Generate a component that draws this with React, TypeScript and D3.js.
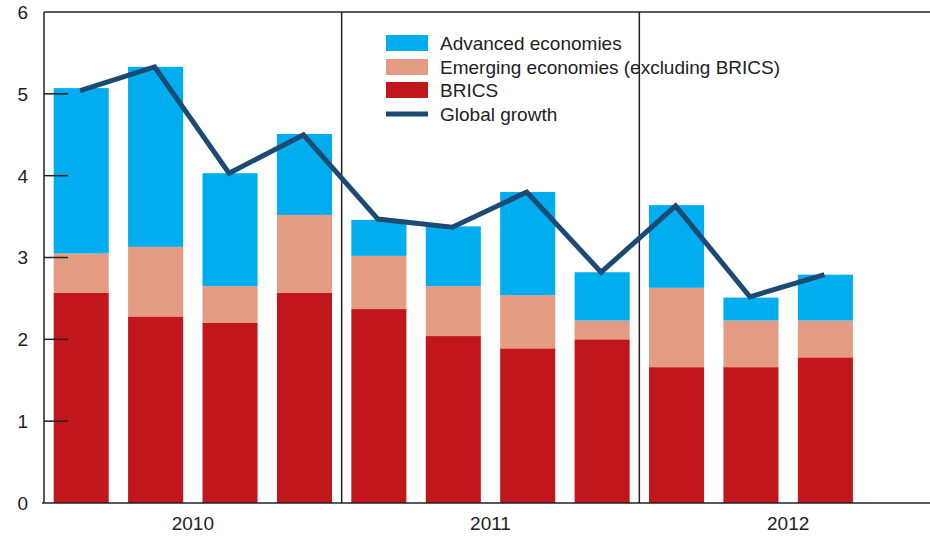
import React from "react";
import * as d3 from "d3";

const quarters = ["2010Q1","2010Q2","2010Q3","2010Q4","2011Q1","2011Q2","2011Q3","2011Q4","2012Q1","2012Q2","2012Q3","2012Q4"];
const years = ["2010", "2011", "2012"];
// stacked components (percentage points)
const brics = [2.57, 2.28, 2.20, 2.57, 2.37, 2.04, 1.89, 2.00, 1.66, 1.66, 1.78];
const emerging = [0.48, 0.85, 0.45, 0.95, 0.65, 0.61, 0.65, 0.23, 0.97, 0.57, 0.45];
const advanced = [2.02, 2.20, 1.38, 0.99, 0.44, 0.73, 1.26, 0.59, 1.01, 0.28, 0.56];
const globalGrowth = [5.04, 5.33, 4.03, 4.50, 3.47, 3.37, 3.80, 2.82, 3.63, 2.52, 2.79];
const yTicks = [0, 1, 2, 3, 4, 5, 6];

const seriesNames = ["BRICS", "Emerging economies (excluding BRICS)", "Advanced economies"];
const colors: Record<string, string> = {
  "BRICS": "#C1161C",
  "Emerging economies (excluding BRICS)": "#E49B83",
  "Advanced economies": "#00ADEE",
};
const lineColor = "#1C4A72";
const legendItems = ["Advanced economies", "Emerging economies (excluding BRICS)", "BRICS", "Global growth"];

export default function App() {
  const W = 930, H = 537;
  const left = 44, right = 937, top = 12, bottom = 503;
  const font = "'Liberation Sans', Arial, sans-serif";

  const x = d3.scaleBand<string>().domain(quarters).range([left, right]).paddingInner(0.26).paddingOuter(0.13);
  const y = d3.scaleLinear().domain([0, 6]).range([bottom, top]);

  const rows = brics.map((b, i) => ({
    q: quarters[i],
    "BRICS": b,
    "Emerging economies (excluding BRICS)": emerging[i],
    "Advanced economies": advanced[i],
  }));
  const stack = d3.stack<any>().keys(seriesNames)(rows);

  const line = d3.line<number>()
    .x((_, i) => (x(quarters[i]) as number) + x.bandwidth() / 2 - 1)
    .y((d) => y(d));

  const step = x.step();
  const dividers = [4, 8].map((k) => left + k * step);
  const yearCenters = years.map((_, k) => left + (k * 4 + 2) * step);

  const legX = 386, legY = [43, 67, 90, 114];

  return (
    <svg width={W} height={H} style={{ position: "absolute", left: 0, top: 0, background: "#fff" }} fontFamily={font}>
      {stack.map((s) => (
        <g key={s.key} fill={colors[s.key]}>
          {s.map((d, i) => (
            <rect key={i} x={x(quarters[i])} y={y(d[1])} width={x.bandwidth()} height={y(d[0]) - y(d[1])} />
          ))}
        </g>
      ))}
      {/* frame */}
      <line x1={left} x2={W} y1={top} y2={top} stroke="#222" strokeWidth={1.5} />
      <line x1={left} x2={left} y1={top} y2={bottom} stroke="#222" strokeWidth={1.5} />
      <line x1={left - 2} x2={W} y1={bottom} y2={bottom} stroke="#222" strokeWidth={1.5} />
      {dividers.map((dx, i) => (
        <line key={i} x1={dx} x2={dx} y1={top} y2={bottom} stroke="#222" strokeWidth={1.5} />
      ))}
      {yTicks.map((t) => (
        <g key={t}>
          {t > 0 && t < 6 && <line x1={left} x2={left + 24} y1={y(t)} y2={y(t)} stroke="#222" strokeWidth={1.5} />}
          <text x={28} y={y(t)} dy="0.36em" textAnchor="end" fontSize={19} fill="#222">{t}</text>
        </g>
      ))}
      {years.map((yr, k) => (
        <text key={yr} x={yearCenters[k]} y={530} textAnchor="middle" fontSize={19} fill="#222">{yr}</text>
      ))}
      <path d={line(globalGrowth) as string} fill="none" stroke={lineColor} strokeWidth={5} strokeLinejoin="miter" />
      {/* legend */}
      {legendItems.map((name, i) => (
        <g key={name}>
          {i < 3 ? (
            <rect x={legX} y={legY[i] - 8} width={42} height={16} fill={colors[name]} />
          ) : (
            <rect x={legX} y={legY[i] - 2.5} width={42} height={5} fill={lineColor} />
          )}
          <text x={440} y={legY[i]} dy="0.36em" fontSize={19} fill="#222">{name}</text>
        </g>
      ))}
    </svg>
  );
}
